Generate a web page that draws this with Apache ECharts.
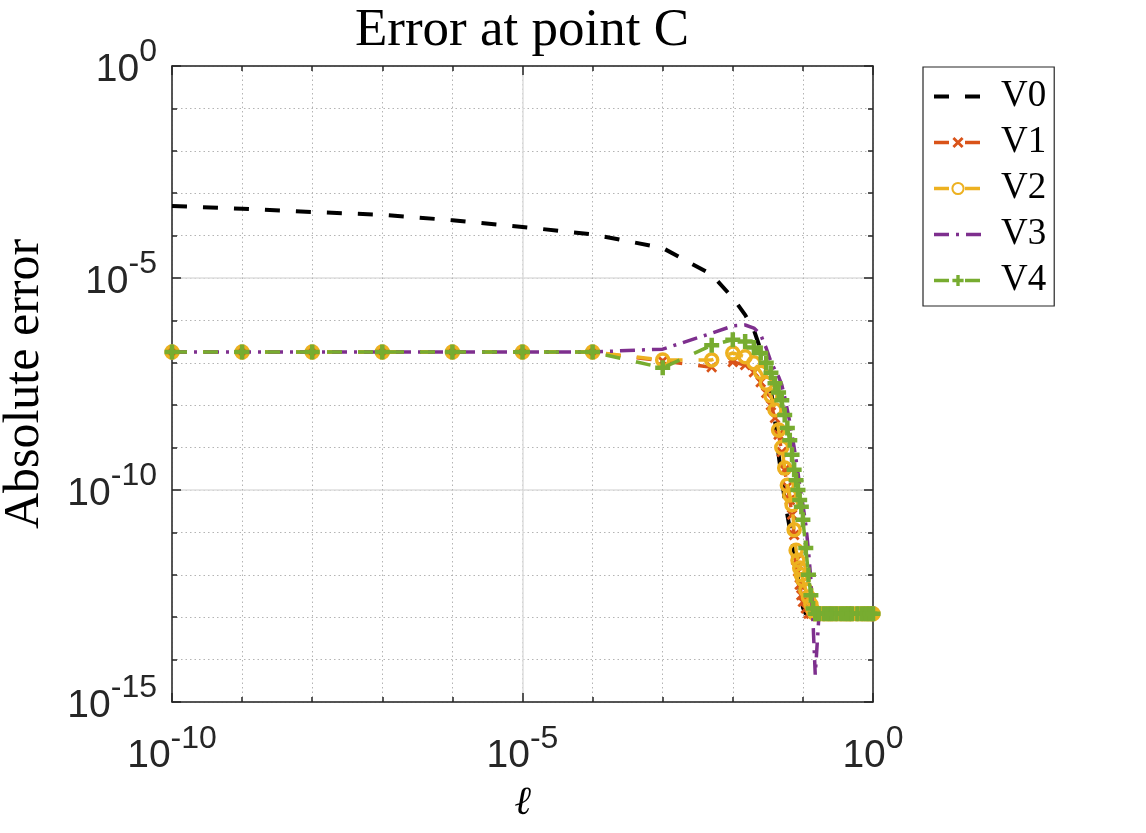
<!DOCTYPE html>
<html><head><meta charset="utf-8">
<script src="https://cdn.jsdelivr.net/npm/echarts@6/dist/echarts.min.js"></script>
<style>html,body{margin:0;padding:0;background:#fff}#c{width:1146px;height:833px}</style>
</head><body><div id="c"></div>
<script>
const titleText = 'Error at point C';
const xName = 'ℓ';
const yName = 'Absolute error';
const seriesNames = ['V0', 'V1', 'V2', 'V3', 'V4'];
const xTickExps = [-10, -5, 0];
const yTickExps = [-15, -10, -5, 0];

const ell = [1e-10, 1e-9, 1e-8, 1e-7, 1e-6, 1e-5, 1e-4, 1e-3,
  0.005, 0.01, 0.015, 0.02, 0.025, 0.03, 0.035, 0.04, 0.045, 0.05,
  0.055, 0.06, 0.065, 0.07, 0.075, 0.08, 0.085, 0.09, 0.095, 0.1,
  0.11, 0.12, 0.13, 0.14, 0.15, 0.17, 0.2, 0.23, 0.26, 0.3, 0.35, 0.4,
  0.45, 0.5, 0.6, 0.7, 0.8, 0.9, 1.0];

const v0 = [5.0e-4, 4.3e-4, 3.6e-4, 3.1e-4, 2.3e-4, 1.6e-4, 1.07e-4, 5.1e-5,
  1.2e-5, 3.4e-6, 1.35e-6, 5.9e-7, 2.0e-7, 6.8e-8, 2.3e-8, 4.5e-9, 6.8e-10, 1.9e-10,
  5.8e-11, 2.6e-11, 1.26e-11, 6.6e-12, 3.5e-12, 1.7e-12, 8.3e-13, 4.4e-13, 2.6e-13, 1.7e-13,
  1.2e-13, 1.2e-13, 1.2e-13, 1.2e-13, 1.2e-13, 1.2e-13, 1.2e-13, 1.2e-13, 1.2e-13, 1.2e-13,
  1.2e-13, 1.2e-13, 1.2e-13, 1.2e-13, 1.2e-13, 1.2e-13, 1.2e-13, 1.2e-13, 1.2e-13];

const v1 = [1.8e-7, 1.8e-7, 1.8e-7, 1.8e-7, 1.8e-7, 1.8e-7, 1.8e-7, 1.1e-7,
  7.9e-8, 1.05e-7, 8.9e-8, 6.0e-8, 3.5e-8, 1.95e-8, 1.0e-8, 5.0e-9, 2.0e-9, 7.9e-10,
  3.0e-10, 1.2e-10, 5.8e-11, 2.6e-11, 8.7e-12, 2.2e-12, 1.2e-12, 5.8e-13, 3.3e-13, 2.3e-13,
  1.6e-13, 1.2e-13, 1.2e-13, 1.2e-13, 1.2e-13, 1.2e-13, 1.2e-13, 1.2e-13, 1.2e-13, 1.2e-13,
  1.2e-13, 1.2e-13, 1.2e-13, 1.2e-13, 1.2e-13, 1.2e-13, 1.2e-13, 1.2e-13, 1.2e-13];

const v2 = [1.8e-7, 1.8e-7, 1.8e-7, 1.8e-7, 1.8e-7, 1.8e-7, 1.8e-7, 1.17e-7,
  1.17e-7, 1.7e-7, 1.38e-7, 1.0e-7, 6.0e-8, 3.3e-8, 1.66e-8, 7.8e-9, 2.6e-9, 1.0e-9,
  3.3e-10, 1.3e-10, 7.6e-11, 4.5e-11, 1.15e-11, 3.8e-12, 2.2e-12, 1.45e-12, 1.0e-12, 7.6e-13,
  4.4e-13, 3.0e-13, 2.0e-13, 1.45e-13, 1.2e-13, 1.2e-13, 1.2e-13, 1.2e-13, 1.2e-13, 1.2e-13,
  1.2e-13, 1.2e-13, 1.2e-13, 1.2e-13, 1.2e-13, 1.2e-13, 1.2e-13, 1.2e-13, 1.2e-13];

const v3 = [1.8e-7, 1.8e-7, 1.8e-7, 1.8e-7, 1.8e-7, 1.8e-7, 1.8e-7, 2.1e-7,
  5.0e-7, 7.4e-7, 7.8e-7, 6.6e-7, 4.6e-7, 2.2e-7, 1.05e-7, 6.8e-8, 4.7e-8, 3.0e-8,
  1.55e-8, 7.8e-9, 4.0e-9, 2.0e-9, 1.0e-9, 5.1e-10, 2.6e-10, 1.3e-10, 7.6e-11, 4.5e-11,
  1.5e-11, 3.8e-12, 7.6e-13, 6.6e-14, 4.4e-15, 1.2e-13, 1.2e-13, 1.2e-13, 1.2e-13, 1.2e-13,
  1.2e-13, 1.2e-13, 1.2e-13, 1.2e-13, 1.2e-13, 1.2e-13, 1.2e-13, 1.2e-13, 1.2e-13];

const v4 = [1.8e-7, 1.8e-7, 1.8e-7, 1.8e-7, 1.8e-7, 1.8e-7, 1.8e-7, 7.6e-8,
  2.6e-7, 3.5e-7, 3.2e-7, 2.3e-7, 1.7e-7, 1.0e-7, 5.8e-8, 3.3e-8, 2.0e-8, 1.3e-8,
  5.9e-9, 2.9e-9, 1.5e-9, 6.8e-10, 3.0e-10, 1.7e-10, 1.0e-10, 5.8e-11, 4.0e-11, 2.0e-11,
  4.3e-12, 1.0e-12, 3.3e-13, 1.6e-13, 1.2e-13, 1.2e-13, 1.2e-13, 1.2e-13, 1.2e-13, 1.2e-13,
  1.2e-13, 1.2e-13, 1.2e-13, 1.2e-13, 1.2e-13, 1.2e-13, 1.2e-13, 1.2e-13, 1.2e-13];

const seriesValues = [v0, v1, v2, v3, v4];

const AX = '#262626';
const plusPath = 'path://M3.5,0H6.5V3.5H10V6.5H6.5V10H3.5V6.5H0V3.5H3.5Z';
const crossPath = 'path://M1.8,0L5,3.2L8.2,0L10,1.8L6.8,5L10,8.2L8.2,10L5,6.8L1.8,10L0,8.2L3.2,5L0,1.8Z';

function pairs(vals) { return ell.map((x, i) => [x, vals[i]]); }

function richLabels() {
  return {
    b: { fontFamily: 'Liberation Sans', fontSize: 39, lineHeight: 53, color: AX, verticalAlign: 'bottom' },
    s: { fontFamily: 'Liberation Sans', fontSize: 32, lineHeight: 30, color: AX, verticalAlign: 'top' }
  };
}
function fmt(list) {
  return function (v) {
    const e = Math.round(Math.log10(v));
    return list.indexOf(e) >= 0 ? '{b|10}{s|' + e + '}' : '';
  };
}

function mkAxis(isX, position, major, withLabels, withLine) {
  const a = {
    type: 'log', logBase: 10, position: position,
    min: isX ? 1e-10 : 1e-15, max: 1,
    interval: major ? 5 : 1,
    axisLine: { show: withLine, onZero: false, lineStyle: { color: AX, width: 1.5 } },
    axisTick: { show: true, inside: true, length: major ? 9 : 5, lineStyle: { color: AX, width: 1.5 } },
    axisLabel: { show: false },
    splitLine: { show: false },
    minorTick: { show: false }, minorSplitLine: { show: false }
  };
  if (withLabels) {
    a.axisLabel = { show: true, interval: 0, margin: isX ? 21 : 15, formatter: fmt(isX ? xTickExps : yTickExps),
      rich: richLabels(), showMinLabel: true, showMaxLabel: true, padding: isX ? 0 : [0, 0, 6, 0] };
    a.splitLine = { show: true, lineStyle: { color: '#b4b4b4', width: 1, type: [1.5, 3] } };
  }
  if (major && position === (isX ? 'bottom' : 'left')) {
    a.splitLine = { show: true, lineStyle: { color: '#dedede', width: 1.5, type: 'solid' } };
  }
  return a;
}

const xAxes = [mkAxis(true, 'bottom', false, true, true), mkAxis(true, 'bottom', true, false, false),
               mkAxis(true, 'top', false, false, true), mkAxis(true, 'top', true, false, false)];
const yAxes = [mkAxis(false, 'left', false, true, true), mkAxis(false, 'left', true, false, false),
               mkAxis(false, 'right', false, false, true), mkAxis(false, 'right', true, false, false)];
xAxes[0].name = xName; xAxes[0].nameLocation = 'middle'; xAxes[0].nameGap = 82;
xAxes[0].nameTextStyle = { fontFamily: 'DejaVu Serif', fontStyle: 'italic', fontSize: 40, color: '#000' };
yAxes[0].name = yName; yAxes[0].nameLocation = 'middle'; yAxes[0].nameGap = 122;
yAxes[0].nameTextStyle = { fontFamily: 'Liberation Serif', fontSize: 50, color: '#000' };

const dash = [15, 16];
const styles = [
  { color: '#000000', lineStyle: { color: '#000000', width: 4, type: dash }, symbol: 'none' },
  { color: '#D95319', lineStyle: { color: '#D95319', width: 3.5, type: dash }, symbol: crossPath, symbolSize: 11 },
  { color: '#EDB120', lineStyle: { color: '#EDB120', width: 3.5, type: dash }, symbol: 'circle', symbolSize: 12,
    itemStyle: { color: 'rgba(0,0,0,0)', borderColor: '#EDB120', borderWidth: 3.5 } },
  { color: '#7E2F8E', lineStyle: { color: '#7E2F8E', width: 3.5, type: [15, 7, 3, 7] }, symbol: 'none' },
  { color: '#77AC30', lineStyle: { color: '#77AC30', width: 3.5, type: dash }, symbol: plusPath, symbolSize: 15 }
];

const series = seriesNames.map((n, i) => Object.assign({
  name: n, type: 'line', xAxisIndex: 0, yAxisIndex: 0,
  data: pairs(seriesValues[i]), showSymbol: styles[i].symbol !== 'none', showAllSymbol: true,
  smooth: false, animation: false, z: 2 + i
}, styles[i]));

const legendData = seriesNames.map((n, i) => {
  const item = { name: n, lineStyle: { width: styles[i].lineStyle.width, color: styles[i].lineStyle.color, type: styles[i].lineStyle.type } };
  if (styles[i].symbol === 'none') item.itemStyle = { color: 'rgba(0,0,0,0)', borderWidth: 0, opacity: 0 };
  return item;
});

const chart = echarts.init(document.getElementById('c'), null, { renderer: 'canvas' });
chart.setOption({
  backgroundColor: '#ffffff',
  animation: false,
  grid: { left: 172, top: 66, right: 273, bottom: 131, containLabel: false, outerBoundsMode: 'none' },
  xAxis: xAxes,
  yAxis: yAxes,
  legend: {
    orient: 'vertical', left: 923, top: 67, data: legendData,
    itemWidth: 48, itemHeight: 14, itemGap: 9,
    padding: [11, 8, 7, 9],
    borderColor: AX, borderWidth: 1.2, backgroundColor: '#ffffff',
    textStyle: { fontFamily: 'Liberation Serif', fontSize: 37, lineHeight: 36, color: '#000', padding: [0, 0, 0, 14] }
  },
  graphic: [{ type: 'text', x: 522, y: 31, style: { text: titleText, align: 'center', verticalAlign: 'middle',
    fontFamily: 'Liberation Serif', fontSize: 53, fill: '#000' } }],
  series: series
});
</script></body></html>
